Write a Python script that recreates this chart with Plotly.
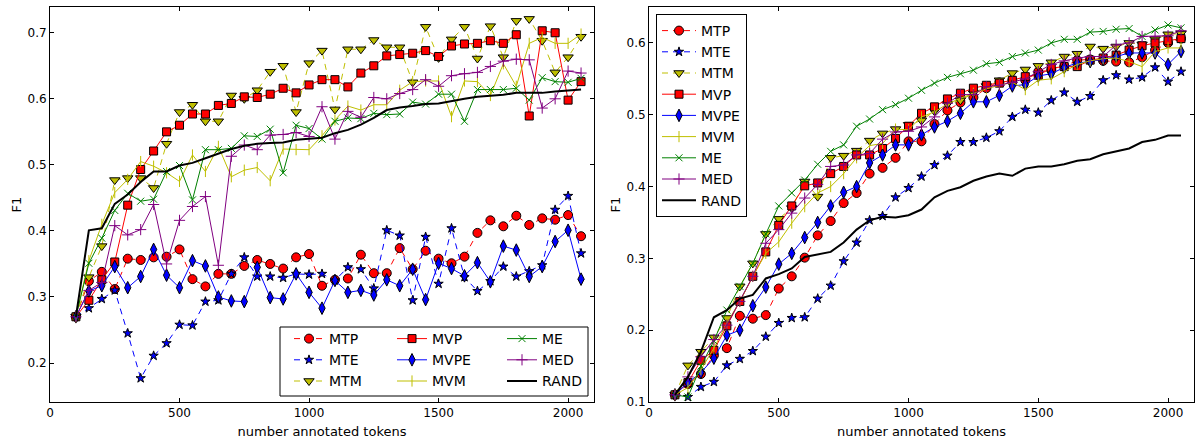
import plotly.graph_objects as go

tokens = [100, 150, 200, 250, 300, 350, 400, 450, 500, 550,
          600, 650, 700, 750, 800, 850, 900, 950, 1000, 1050,
          1100, 1150, 1200, 1250, 1300, 1350, 1400, 1450, 1500, 1550,
          1600, 1650, 1700, 1750, 1800, 1850, 1900, 1950, 2000, 2050]

# ---------------- left panel ----------------
L_MTP = [0.270, 0.324, 0.338, 0.312, 0.358, 0.356, 0.360, 0.361, 0.372, 0.327,
         0.316, 0.335, 0.335, 0.347, 0.356, 0.350, 0.343, 0.360, 0.365, 0.317,
         0.326, 0.328, 0.364, 0.336, 0.336, 0.374, 0.342, 0.370, 0.358, 0.351,
         0.361, 0.397, 0.416, 0.407, 0.423, 0.409, 0.419, 0.417, 0.424, 0.392]
L_MTE = [0.270, 0.283, 0.297, 0.310, 0.245, 0.177, 0.211, 0.230, 0.258, 0.257,
         0.293, 0.295, 0.335, 0.360, 0.331, 0.331, 0.329, 0.335, 0.334, 0.335,
         0.325, 0.345, 0.342, 0.313, 0.401, 0.393, 0.295, 0.391, 0.320, 0.404,
         0.330, 0.309, 0.324, 0.346, 0.331, 0.339, 0.348, 0.432, 0.453, 0.366]
L_MTM = [0.270, 0.330, 0.377, 0.477, 0.480, 0.480, 0.465, 0.532, 0.580, 0.591,
         0.566, 0.566, 0.605, 0.600, 0.613, 0.641, 0.650, 0.580, 0.654, 0.673,
         0.584, 0.675, 0.675, 0.689, 0.678, 0.678, 0.625, 0.709, 0.662, 0.690,
         0.709, 0.661, 0.710, 0.663, 0.718, 0.721, 0.688, 0.640, 0.663, 0.694]
L_MVP = [0.270, 0.295, 0.326, 0.353, 0.439, 0.493, 0.521, 0.550, 0.560, 0.577,
         0.577, 0.590, 0.593, 0.603, 0.602, 0.607, 0.616, 0.609, 0.621, 0.629,
         0.629, 0.618, 0.639, 0.650, 0.665, 0.667, 0.669, 0.673, 0.664, 0.680,
         0.683, 0.684, 0.688, 0.684, 0.697, 0.574, 0.703, 0.700, 0.598, 0.626]
L_MVPE = [0.270, 0.309, 0.317, 0.346, 0.314, 0.331, 0.372, 0.333, 0.314, 0.355,
          0.347, 0.300, 0.294, 0.293, 0.345, 0.299, 0.297, 0.335, 0.307, 0.283,
          0.325, 0.307, 0.310, 0.303, 0.326, 0.317, 0.342, 0.296, 0.351, 0.343,
          0.332, 0.352, 0.323, 0.377, 0.371, 0.331, 0.346, 0.384, 0.401, 0.327]
L_MVM = [0.270, 0.355, 0.410, 0.458, 0.478, 0.505, 0.498, 0.488, 0.475, 0.515,
         0.490, 0.528, 0.482, 0.492, 0.496, 0.476, 0.524, 0.523, 0.523, 0.544,
         0.568, 0.589, 0.583, 0.591, 0.591, 0.613, 0.626, 0.627, 0.627, 0.573,
         0.627, 0.626, 0.605, 0.653, 0.619, 0.684, 0.693, 0.684, 0.684, 0.698]
L_ME = [0.270, 0.351, 0.389, 0.431, 0.457, 0.445, 0.448, 0.490, 0.499, 0.447,
        0.523, 0.523, 0.525, 0.544, 0.543, 0.554, 0.488, 0.560, 0.555, 0.539,
        0.566, 0.571, 0.570, 0.578, 0.576, 0.577, 0.595, 0.592, 0.607, 0.607,
        0.566, 0.614, 0.614, 0.614, 0.616, 0.598, 0.632, 0.626, 0.625, 0.631]
L_MED = [0.270, 0.310, 0.322, 0.408, 0.394, 0.402, 0.440, 0.350, 0.416, 0.437,
         0.452, 0.348, 0.513, 0.530, 0.523, 0.545, 0.546, 0.549, 0.543, 0.588,
         0.539, 0.581, 0.572, 0.602, 0.600, 0.608, 0.614, 0.629, 0.619, 0.635,
         0.638, 0.640, 0.649, 0.657, 0.660, 0.659, 0.586, 0.600, 0.642, 0.639]
L_RAND = [0.270, 0.401, 0.404, 0.441, 0.455, 0.474, 0.490, 0.490, 0.499, 0.503,
          0.510, 0.517, 0.524, 0.529, 0.532, 0.533, 0.534, 0.538, 0.539, 0.541,
          0.548, 0.553, 0.561, 0.571, 0.583, 0.587, 0.589, 0.592, 0.593, 0.597,
          0.600, 0.603, 0.604, 0.606, 0.609, 0.609, 0.609, 0.611, 0.613, 0.614]

# ---------------- right panel ----------------
R_MTP = [0.110, 0.125, 0.139, 0.165, 0.175, 0.220, 0.216, 0.221, 0.258, 0.275,
         0.301, 0.332, 0.352, 0.377, 0.391, 0.418, 0.426, 0.440, 0.463, 0.463,
         0.487, 0.506, 0.517, 0.524, 0.537, 0.545, 0.548, 0.548, 0.560, 0.562,
         0.567, 0.576, 0.577, 0.575, 0.574, 0.573, 0.580, 0.590, 0.600, 0.606]
R_MTE = [0.110, 0.107, 0.121, 0.128, 0.151, 0.160, 0.171, 0.191, 0.210, 0.217,
         0.218, 0.244, 0.262, 0.296, 0.322, 0.353, 0.359, 0.385, 0.398, 0.414,
         0.430, 0.443, 0.462, 0.462, 0.468, 0.477, 0.497, 0.507, 0.503, 0.520,
         0.531, 0.518, 0.526, 0.548, 0.555, 0.549, 0.552, 0.566, 0.546, 0.560]
R_MTM = [0.110, 0.151, 0.170, 0.190, 0.217, 0.261, 0.293, 0.334, 0.355, 0.370,
         0.407, 0.386, 0.440, 0.443, 0.450, 0.464, 0.474, 0.480, 0.486, 0.492,
         0.505, 0.515, 0.520, 0.530, 0.540, 0.548, 0.558, 0.563, 0.568, 0.573,
         0.581, 0.585, 0.595, 0.592, 0.595, 0.600, 0.598, 0.605, 0.612, 0.613]
R_MVP = [0.110, 0.127, 0.158, 0.172, 0.206, 0.240, 0.275, 0.309, 0.346, 0.373,
         0.401, 0.405, 0.418, 0.428, 0.444, 0.444, 0.453, 0.467, 0.484, 0.502,
         0.511, 0.522, 0.530, 0.537, 0.541, 0.544, 0.548, 0.553, 0.555, 0.565,
         0.567, 0.567, 0.576, 0.579, 0.583, 0.590, 0.596, 0.600, 0.603, 0.606]
R_MVPE = [0.110, 0.127, 0.141, 0.161, 0.193, 0.200, 0.234, 0.260, 0.292, 0.307,
          0.329, 0.350, 0.373, 0.392, 0.400, 0.433, 0.444, 0.458, 0.458, 0.472,
          0.483, 0.491, 0.502, 0.518, 0.518, 0.527, 0.540, 0.542, 0.554, 0.557,
          0.566, 0.572, 0.574, 0.577, 0.581, 0.586, 0.586, 0.586, 0.570, 0.588]
R_MVM = [0.110, 0.120, 0.145, 0.175, 0.210, 0.240, 0.275, 0.307, 0.323, 0.349,
         0.372, 0.391, 0.400, 0.418, 0.440, 0.457, 0.460, 0.480, 0.479, 0.497,
         0.504, 0.515, 0.523, 0.530, 0.536, 0.541, 0.545, 0.535, 0.548, 0.550,
         0.560, 0.570, 0.575, 0.578, 0.579, 0.574, 0.567, 0.588, 0.593, 0.593]
R_ME = [0.110, 0.107, 0.150, 0.185, 0.228, 0.261, 0.293, 0.334, 0.373, 0.391,
        0.409, 0.431, 0.449, 0.458, 0.484, 0.494, 0.507, 0.514, 0.523, 0.534,
        0.544, 0.552, 0.557, 0.562, 0.571, 0.573, 0.581, 0.586, 0.590, 0.600,
        0.605, 0.605, 0.615, 0.616, 0.619, 0.620, 0.609, 0.618, 0.625, 0.621]
R_MED = [0.110, 0.135, 0.163, 0.187, 0.207, 0.240, 0.275, 0.321, 0.340, 0.363,
         0.384, 0.403, 0.428, 0.430, 0.444, 0.446, 0.466, 0.476, 0.477, 0.483,
         0.497, 0.516, 0.528, 0.528, 0.539, 0.541, 0.545, 0.550, 0.560, 0.570,
         0.575, 0.579, 0.581, 0.581, 0.597, 0.600, 0.609, 0.609, 0.610, 0.617]
R_RAND = [0.110, 0.135, 0.170, 0.218, 0.228, 0.244, 0.249, 0.272, 0.278, 0.286,
          0.302, 0.306, 0.309, 0.322, 0.340, 0.353, 0.358, 0.357, 0.360, 0.368,
          0.385, 0.394, 0.399, 0.408, 0.414, 0.418, 0.415, 0.425, 0.428, 0.428,
          0.431, 0.436, 0.438, 0.445, 0.449, 0.453, 0.462, 0.465, 0.471, 0.471]

series_names = ["MTP", "MTE", "MTM", "MVP", "MVPE", "MVM", "ME", "MED", "RAND"]
left_data = [L_MTP, L_MTE, L_MTM, L_MVP, L_MVPE, L_MVM, L_ME, L_MED, L_RAND]
right_data = [R_MTP, R_MTE, R_MTM, R_MVP, R_MVPE, R_MVM, R_ME, R_MED, R_RAND]
left_legend_cols = ["legend", "legend", "legend", "legend2", "legend2", "legend2",
                    "legend3", "legend3", "legend3"]

x_ticks = [0, 500, 1000, 1500, 2000]
left_y_ticks = [0.2, 0.3, 0.4, 0.5, 0.6, 0.7]
right_y_ticks = [0.1, 0.2, 0.3, 0.4, 0.5, 0.6]

RED = "#ff0000"
BLUE = "#0000ff"
OLIVE = "#bfbf00"
GREEN = "#008000"
PURPLE = "#800080"
DASH = "6px,5px"
EDGE = dict(color="black", width=1)

styles = {
    "MTP": dict(mode="lines+markers", line=dict(color=RED, width=1, dash=DASH),
                marker=dict(symbol="circle", size=9, color=RED, line=EDGE)),
    "MTE": dict(mode="lines+markers", line=dict(color=BLUE, width=1, dash=DASH),
                marker=dict(symbol="star", size=7, color=BLUE, line=EDGE)),
    "MTM": dict(mode="lines+markers", line=dict(color=OLIVE, width=1, dash=DASH),
                marker=dict(symbol="triangle-down", size=9, color=OLIVE, line=EDGE)),
    "MVP": dict(mode="lines+markers", line=dict(color=RED, width=1),
                marker=dict(symbol="square", size=8, color=RED, line=EDGE)),
    "MVPE": dict(mode="lines+markers", line=dict(color=BLUE, width=1),
                 marker=dict(symbol="diamond-tall", size=9, color=BLUE, line=EDGE)),
    "MVM": dict(mode="lines+markers", line=dict(color=OLIVE, width=1),
                marker=dict(symbol="line-ns", size=8, color=OLIVE,
                            line=dict(color=OLIVE, width=1))),
    "ME": dict(mode="lines+markers", line=dict(color=GREEN, width=1),
               marker=dict(symbol="x-thin", size=7, color=GREEN,
                           line=dict(color=GREEN, width=1))),
    "MED": dict(mode="lines+markers", line=dict(color=PURPLE, width=1),
                marker=dict(symbol="cross-thin", size=8, color=PURPLE,
                            line=dict(color=PURPLE, width=1))),
    "RAND": dict(mode="lines", line=dict(color="black", width=2)),
}

fig = go.Figure()
for name, ys, lg in zip(series_names, left_data, left_legend_cols):
    fig.add_trace(go.Scatter(x=tokens, y=ys, name=name, xaxis="x", yaxis="y",
                             legend=lg, **styles[name]))
for name, ys in zip(series_names, right_data):
    fig.add_trace(go.Scatter(x=tokens, y=ys, name=name, xaxis="x2", yaxis="y2",
                             legend="legend4", **styles[name]))

W, H = 1195, 439
ML, MR, MT, MB = 0, 1, 7, 37
PW = W - ML - MR
PH = H - MT - MB
FONT = "DejaVu Sans"


def px_x(px):
    return (px - ML) / PW


def px_y(py):
    return (H - MB - py) / PH


axis_common = dict(showline=True, linecolor="black", linewidth=1, mirror="ticks",
                   ticks="inside", ticklen=4, tickwidth=1, tickcolor="black",
                   showgrid=False, zeroline=False,
                   tickfont=dict(family=FONT, size=12, color="black"))

fig.update_layout(
    width=W, height=H,
    margin=dict(l=ML, r=MR, t=MT, b=MB, pad=0),
    paper_bgcolor="white", plot_bgcolor="white",
    font=dict(family=FONT, size=12, color="black"),
    xaxis=dict(domain=[px_x(50), px_x(594)], range=[0, 2100], tickvals=x_ticks,
               anchor="y", automargin=False,
               title=dict(text="number annotated tokens",
                          font=dict(family=FONT, size=13)),
               **axis_common),
    yaxis=dict(domain=[0, 1], range=[0.141, 0.739], tickvals=left_y_ticks,
               tickformat=".1f", anchor="x", automargin=True,
               title=dict(text="F1", standoff=2, font=dict(family=FONT, size=13)),
               **axis_common),
    xaxis2=dict(domain=[px_x(649), 1.0], range=[0, 2100], tickvals=x_ticks,
                anchor="y2", automargin=False,
                title=dict(text="number annotated tokens",
                           font=dict(family=FONT, size=13)),
                **axis_common),
    yaxis2=dict(domain=[0, 1], range=[0.1, 0.65], tickvals=right_y_ticks,
                tickformat=".1f", anchor="x2", automargin=True,
                title=dict(text="F1", standoff=2, font=dict(family=FONT, size=13)),
                **axis_common),
)

leg_common = dict(orientation="v", xanchor="left", yanchor="top",
                  bgcolor="rgba(0,0,0,0)", borderwidth=0,
                  font=dict(family=FONT, size=14, color="black"),
                  itemsizing="trace", itemclick=False, itemdoubleclick=False)
fig.update_layout(
    legend=dict(x=px_x(289), y=px_y(323), **leg_common),
    legend2=dict(x=px_x(392), y=px_y(323), **leg_common),
    legend3=dict(x=px_x(502), y=px_y(323), **leg_common),
    legend4=dict(x=px_x(656), y=px_y(14), orientation="v", xanchor="left",
                 yanchor="top", bgcolor="white", bordercolor="black", borderwidth=1,
                 itemwidth=34, font=dict(family=FONT, size=14, color="black"),
                 itemclick=False, itemdoubleclick=False),
)

# frame of the three-column legend in the left panel
fig.add_shape(type="rect", xref="paper", yref="paper",
              x0=px_x(280), x1=px_x(588), y0=px_y(396), y1=px_y(327),
              line=dict(color="black", width=1), fillcolor="white", layer="above")

fig.write_html("out.html", config={"displayModeBar": False},
               post_script="document.body.style.margin='0px';")
